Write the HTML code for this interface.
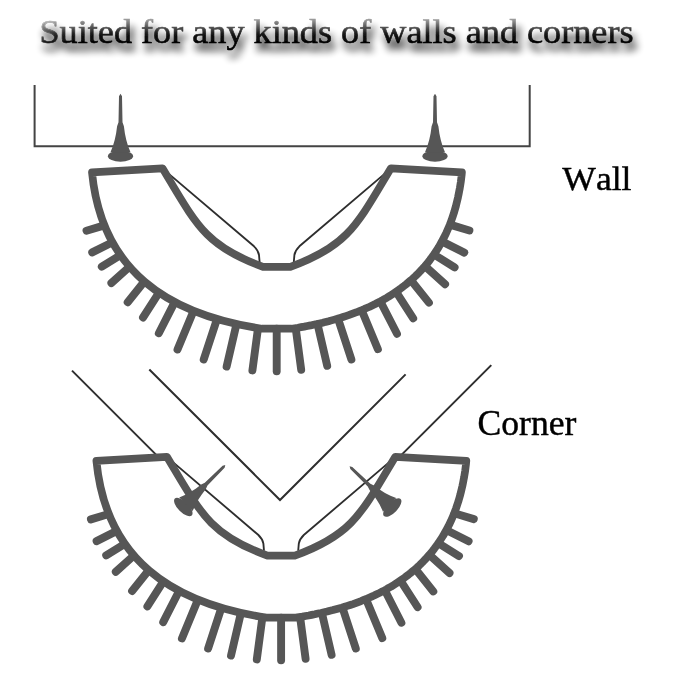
<!DOCTYPE html>
<html><head><meta charset="utf-8">
<style>
html,body{margin:0;padding:0;background:#fff;width:679px;height:679px;overflow:hidden}
svg{display:block;will-change:transform}
text{font-family:"Liberation Serif",serif}
</style></head>
<body>
<svg width="679" height="679" viewBox="0 0 679 679">
<defs>
  <linearGradient id="tg" gradientUnits="userSpaceOnUse" x1="0" y1="18.5" x2="0" y2="43.5">
    <stop offset="0" stop-color="#999"/>
    <stop offset="0.3" stop-color="#555"/>
    <stop offset="0.6" stop-color="#151515"/>
    <stop offset="1" stop-color="#000"/>
  </linearGradient>
  <linearGradient id="hl" gradientUnits="userSpaceOnUse" x1="40" y1="18" x2="70" y2="50">
    <stop offset="0" stop-color="#fff" stop-opacity="0.4"/>
    <stop offset="0.5" stop-color="#fff" stop-opacity="0.08"/>
    <stop offset="1" stop-color="#fff" stop-opacity="0"/>
  </linearGradient>
  <filter id="sh" x="-10%" y="-50%" width="120%" height="200%">
    <feGaussianBlur in="SourceAlpha" stdDeviation="4" result="b"/>
    <feOffset in="b" dx="3" dy="8.5" result="o"/>
    <feComponentTransfer in="o" result="s"><feFuncA type="linear" slope="0.95"/></feComponentTransfer>
    <feMerge><feMergeNode in="s"/><feMergeNode in="SourceGraphic"/></feMerge>
  </filter>
  <g id="nail">
    <ellipse cx="0" cy="0" rx="12.6" ry="5.5"/>
    <path d="M-1.5,-60 L0,-62.5 L1.5,-60 L2,-34 L3.4,-30 C4.5,-20 6.5,-12 10,-4 L-10,-4 C-6.5,-12 -4.5,-20 -3.4,-30 L-2,-34 Z"/>
  </g>
  <g id="holder">
    <path d="M165,170.6 L254,246.3 Q258.3,250.5 259,255 L259.6,262" fill="none" stroke="#2e2e2e" stroke-width="1.85"/>
    <path d="M388.4,170.6 L299.4,246.3 Q295.1,250.5 294.4,255 L293.8,262" fill="none" stroke="#2e2e2e" stroke-width="1.85"/>
    <path d="M263,266.8 C205,246 196,224 162.5,168.3 L92,172.3 C101.5,269.9 166.3,314.3 262,328.7 L291.4,328.7 294.7,328.2 297.9,327.7 301.1,327.1 304.2,326.6 307.3,326 310.4,325.4 313.5,324.7 316.6,324.1 319.6,323.4 322.7,322.7 325.6,321.9 328.6,321.2 331.5,320.4 334.4,319.6 337.3,318.8 340.2,317.9 343,317 345.8,316.1 348.6,315.2 351.3,314.2 354,313.2 356.7,312.2 359.4,311.1 362,310.1 364.6,308.9 367.2,307.8 369.7,306.7 372.2,305.5 374.7,304.3 377.1,303 379.6,301.8 382,300.5 384.3,299.1 386.7,297.8 389,296.4 391.2,295 393.5,293.5 395.7,292 397.9,290.5 400,289 402.1,287.4 404.2,285.8 406.2,284.2 408.2,282.5 410.2,280.8 412.2,279.1 414.1,277.4 415.9,275.6 417.8,273.8 419.6,271.9 421.4,270 423.1,268.1 424.8,266.2 426.5,264.2 428.2,262.2 429.8,260.1 431.3,258 432.9,255.9 434.4,253.8 435.8,251.6 437.3,249.3 438.7,247.1 440,244.8 441.3,242.5 442.6,240.1 443.9,237.7 445.1,235.3 446.3,232.8 447.4,230.3 448.5,227.8 449.6,225.2 450.6,222.6 451.6,219.9 452.5,217.2 453.4,214.5 454.3,211.7 455.1,208.9 455.9,206.1 456.6,203.2 457.3,200.3 458,197.3 458.6,194.4 459.2,191.3 459.8,188.2 460.3,185.1 460.8,182 461.2,178.8 461.6,175.6 461.9,172.3 L390.9,168.3 C357.4,224 348.4,246 290.4,266.8 Z" fill="none" stroke="#565656" stroke-width="7.7" stroke-linejoin="round"/>
    <g stroke="#565656" stroke-width="7.9" stroke-linecap="round">
      <line x1="103.5" y1="225.6" x2="86.5" y2="230.7"/>
      <line x1="111.5" y1="242.7" x2="92.2" y2="252.4"/>
      <line x1="119.6" y1="255.7" x2="101.8" y2="266.7"/>
      <line x1="128.8" y1="267.4" x2="111.4" y2="283"/>
      <line x1="143.7" y1="282.2" x2="127.7" y2="302.2"/>
      <line x1="158.5" y1="293.4" x2="143" y2="317.5"/>
      <line x1="174.3" y1="302.9" x2="158.8" y2="333.2"/>
      <line x1="193.2" y1="311.7" x2="177.5" y2="349.5"/>
      <line x1="216.7" y1="319.9" x2="203.7" y2="359.5"/>
      <line x1="236.3" y1="324.9" x2="226.6" y2="366.6"/>
      <line x1="257.9" y1="329.1" x2="252.4" y2="370.4"/>
      <line x1="450.7" y1="224.9" x2="469.4" y2="230.5"/>
      <line x1="442.8" y1="241.9" x2="464.2" y2="252.6"/>
      <line x1="434.7" y1="255" x2="454.6" y2="267.3"/>
      <line x1="425.7" y1="266.7" x2="445.1" y2="284.2"/>
      <line x1="411.6" y1="281" x2="428.9" y2="302.6"/>
      <line x1="396.6" y1="292.6" x2="413.2" y2="318.3"/>
      <line x1="380.8" y1="302.2" x2="397" y2="333.8"/>
      <line x1="362" y1="311.1" x2="377.9" y2="349.2"/>
      <line x1="338.3" y1="319.5" x2="351.4" y2="359.5"/>
      <line x1="317.7" y1="324.9" x2="327.2" y2="365.8"/>
      <line x1="295.8" y1="329" x2="301.2" y2="369.8"/>
      <line x1="276.7" y1="328.7" x2="276.7" y2="371.2"/>
    </g>
  </g>
</defs>

<g transform="translate(0,43.2) scale(1,0.94) translate(0,-43.2)">
<text x="39.5" y="43.2" font-size="36.2" fill="url(#tg)" stroke="url(#tg)" stroke-width="0.6" filter="url(#sh)">Suited for any kinds of walls and corners</text>
<text x="39.5" y="43.2" font-size="36.2" fill="url(#hl)" stroke="url(#hl)" stroke-width="0.6">Suited for any kinds of walls and corners</text>
</g>

<path d="M34.6,85 L34.6,146.3 L529.7,146.3 L529.7,85" fill="none" stroke="#444" stroke-width="2"/>
<g fill="#565656">
  <use href="#nail" transform="translate(120.5,156.2)"/>
  <use href="#nail" transform="translate(435,156.2)"/>
</g>
<use href="#holder"/>
<text x="562.3" y="190.2" font-size="35.6" fill="#000" stroke="#000" stroke-width="0.45" style="font-kerning:none" transform="translate(0,190.2) scale(1,0.95) translate(0,-190.2)">Wall</text>

<g fill="none" stroke="#2e2e2e" stroke-width="2">
  <path d="M72,370.6 L158,456.6"/>
  <path d="M149.3,369.5 L280,500 L405.6,374.4"/>
  <path d="M491.3,365.1 L399,457.4"/>
</g>
<use href="#holder" transform="translate(4.4,288.07) scale(1,1.0025)"/>
<g fill="#565656">
  <use href="#nail" transform="translate(183.3,507) rotate(45) scale(0.95)"/>
  <use href="#nail" transform="translate(392.3,507.5) rotate(-46) scale(0.95)"/>
</g>
<text x="477.6" y="435.4" font-size="35.6" fill="#000" stroke="#000" stroke-width="0.45" style="font-kerning:none">Corner</text>
</svg>
</body></html>
